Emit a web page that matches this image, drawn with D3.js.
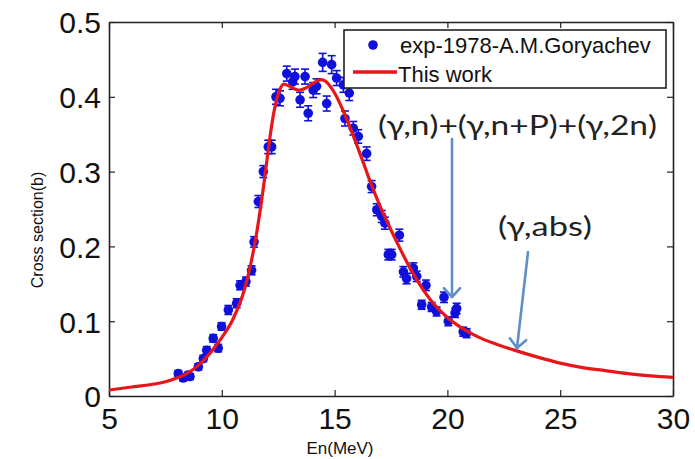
<!DOCTYPE html>
<html>
<head>
<meta charset="utf-8">
<script src="https://cdn.jsdelivr.net/npm/d3@7"></script>
<style>
  html, body { margin: 0; padding: 0; background: #fff; }
  svg { display: block; }
</style>
</head>
<body>
<svg id="chart" width="695" height="459"></svg>
<script>
// ---------- data ----------
const xTicks = [5, 10, 15, 20, 25, 30];
const yTicks = [0, 0.1, 0.2, 0.3, 0.4, 0.5];
const yTickLabels = ["0", "0.1", "0.2", "0.3", "0.4", "0.5"];

// experimental points: exp-1978-A.M.Goryachev
const expE = [8.07, 8.29, 8.51, 8.59, 8.96, 9.18, 9.33, 9.62, 9.84, 9.99, 10.29, 10.66, 10.81, 11.07, 11.32, 11.43,
  11.62, 11.84, 12.06, 12.21, 12.40, 12.58, 12.88, 13.14, 13.24, 13.47, 13.69, 13.83, 14.05, 14.20, 14.47, 14.65,
  14.87, 15.09, 15.39, 15.46, 15.65, 15.83, 16.05, 16.42, 16.64, 16.87, 17.09, 17.23, 17.38, 17.53, 17.87, 18.05,
  18.19, 18.49, 18.64, 18.86, 19.05, 19.30, 19.52, 19.85, 20.04, 20.34, 20.41, 20.70, 20.85];
const expSigma = [0.030, 0.024, 0.028, 0.026, 0.039, 0.050, 0.061, 0.077, 0.064, 0.093, 0.115, 0.124, 0.148, 0.153, 0.168, 0.206,
  0.260, 0.300, 0.333, 0.333, 0.400, 0.398, 0.431, 0.420, 0.427, 0.396, 0.427, 0.378, 0.409, 0.414, 0.446, 0.391,
  0.443, 0.425, 0.416, 0.371, 0.405, 0.358, 0.347, 0.324, 0.280, 0.249, 0.240, 0.231, 0.189, 0.189, 0.215, 0.166,
  0.157, 0.171, 0.160, 0.122, 0.148, 0.119, 0.113, 0.132, 0.100, 0.111, 0.117, 0.086, 0.084];
const expErr = [0.004, 0.004, 0.004, 0.004, 0.004, 0.004, 0.005, 0.005, 0.005, 0.005, 0.006, 0.006, 0.006, 0.006, 0.006, 0.007,
  0.008, 0.008, 0.009, 0.009, 0.010, 0.010, 0.010, 0.010, 0.010, 0.010, 0.010, 0.010, 0.010, 0.010, 0.012, 0.010,
  0.012, 0.010, 0.010, 0.010, 0.010, 0.009, 0.009, 0.009, 0.008, 0.008, 0.008, 0.008, 0.007, 0.007, 0.008, 0.007,
  0.007, 0.007, 0.007, 0.006, 0.007, 0.006, 0.006, 0.007, 0.006, 0.006, 0.007, 0.006, 0.006];

// calculated curve: This work
const fitE = [5, 6, 7, 7.5, 8, 8.5, 9, 9.5, 10, 10.5, 11, 11.25, 11.5, 11.7, 11.85, 12.05, 12.3, 12.55, 12.75,
  13.0, 13.4, 13.8, 14.1, 14.4, 14.7, 15.0, 15.4, 15.8, 16.2, 16.6, 17.0, 17.5, 17.9, 18.4, 18.8, 19.4, 20.0,
  20.85, 21.5, 22.3, 23, 24, 25, 26, 27, 28, 29, 30];
const fitSigma = [0.008, 0.012, 0.016, 0.019, 0.024, 0.031, 0.042, 0.058, 0.078, 0.103, 0.142, 0.172, 0.210, 0.248, 0.280,
  0.327, 0.378, 0.408, 0.417, 0.414, 0.409, 0.413, 0.419, 0.423, 0.418, 0.405, 0.380, 0.350, 0.318, 0.285, 0.255,
  0.222, 0.197, 0.168, 0.148, 0.123, 0.105, 0.087, 0.077, 0.068, 0.061, 0.052, 0.044, 0.038, 0.034, 0.030, 0.027, 0.025];

const legendLabels = ["exp-1978-A.M.Goryachev", "This work"];
const annotations = ["(\u03B3,n)+(\u03B3,n+P)+(\u03B3,2n)", "(\u03B3,abs)"];

// ---------- layout ----------
const svg = d3.select("#chart");
const L = 109, R = 673, T = 22, B = 396;
const x = d3.scaleLinear().domain([5, 30]).range([L, R]);
const y = d3.scaleLinear().domain([0, 0.5]).range([B, T]);
const axisFont = "'Liberation Sans', Arial, sans-serif";
const blue = "#1010dc";
const red = "#e8161b";
const arrowCol = "#5f8fc4";

// axes (box with inward ticks)
const tickLen = 6;
const gx = svg.append("g").attr("transform", `translate(0,${B})`)
  .call(d3.axisBottom(x).tickValues(xTicks).tickSizeInner(-tickLen).tickSizeOuter(0).tickPadding(12).tickFormat(d3.format("d")));
const gxTop = svg.append("g").attr("transform", `translate(0,${T})`)
  .call(d3.axisTop(x).tickValues(xTicks).tickSizeInner(-tickLen).tickSizeOuter(0).tickFormat(""));
const gy = svg.append("g").attr("transform", `translate(${L},0)`)
  .call(d3.axisLeft(y).tickValues(yTicks).tickSizeInner(-tickLen).tickSizeOuter(0).tickPadding(8)
    .tickFormat((d, i) => yTickLabels[i]));
const gyR = svg.append("g").attr("transform", `translate(${R},0)`)
  .call(d3.axisRight(y).tickValues(yTicks).tickSizeInner(-tickLen).tickSizeOuter(0).tickFormat(""));

[gx, gxTop, gy, gyR].forEach(g => {
  g.select(".domain").attr("stroke", "#222").attr("stroke-width", 1.6);
  g.selectAll(".tick line").attr("stroke", "#222").attr("stroke-width", 1.2);
  g.selectAll("text").attr("font-family", axisFont).attr("font-size", 30).attr("fill", "#111");
});
gx.selectAll("text").attr("dy", "0.71em");
gy.selectAll("text").attr("dy", "0.36em");

// axis titles
svg.append("text").attr("x", 340).attr("y", 454).attr("text-anchor", "middle")
  .attr("font-family", axisFont).attr("font-size", 17).attr("fill", "#111").text("En(MeV)");
svg.append("text").attr("transform", "translate(43,230) rotate(-90)").attr("text-anchor", "middle")
  .attr("font-family", axisFont).attr("font-size", 16).attr("fill", "#111").text("Cross section(b)");

// experimental points
const pts = expE.map((e, i) => ({ e, s: expSigma[i], err: expErr[i] }));
const gp = svg.append("g");
const cap = 4;
pts.forEach(p => {
  const cx = x(p.e), cy = y(p.s), y1 = y(p.s + p.err), y2 = y(p.s - p.err);
  gp.append("line").attr("x1", cx).attr("x2", cx).attr("y1", y1).attr("y2", y2).attr("stroke", blue).attr("stroke-width", 1.6);
  gp.append("line").attr("x1", cx - cap).attr("x2", cx + cap).attr("y1", y1).attr("y2", y1).attr("stroke", blue).attr("stroke-width", 1.6);
  gp.append("line").attr("x1", cx - cap).attr("x2", cx + cap).attr("y1", y2).attr("y2", y2).attr("stroke", blue).attr("stroke-width", 1.6);
});
gp.selectAll("circle").data(pts).join("circle")
  .attr("cx", d => x(d.e)).attr("cy", d => y(d.s)).attr("r", 4.8).attr("fill", blue);

// curve
const fit = fitE.map((e, i) => [e, fitSigma[i]]);
svg.append("path").datum(fit)
  .attr("d", d3.line().x(d => x(d[0])).y(d => y(d[1])).curve(d3.curveMonotoneX))
  .attr("fill", "none").attr("stroke", red).attr("stroke-width", 3.2).attr("stroke-linejoin", "round");

// legend
const lg = svg.append("g");
lg.append("rect").attr("x", 344).attr("y", 30).attr("width", 322).attr("height", 58)
  .attr("fill", "#fff").attr("stroke", "#222").attr("stroke-width", 1.6);
lg.append("circle").attr("cx", 373).attr("cy", 45).attr("r", 4.8).attr("fill", blue);
lg.append("text").attr("x", 400).attr("y", 53).attr("font-family", axisFont).attr("font-size", 22)
  .attr("fill", "#111").text(legendLabels[0]);
lg.append("line").attr("x1", 353).attr("x2", 397).attr("y1", 72).attr("y2", 72).attr("stroke", red).attr("stroke-width", 3.4);
lg.append("text").attr("x", 398).attr("y", 82).attr("font-family", axisFont).attr("font-size", 22)
  .attr("fill", "#111").text(legendLabels[1]);

// annotations
const annFont = "Lato, 'Open Sans', sans-serif";
svg.append("text").attr("x", 378).attr("y", 135).attr("font-family", annFont).attr("font-size", 27)
  .attr("fill", "#222").attr("textLength", 279).attr("lengthAdjust", "spacingAndGlyphs").text(annotations[0]);
svg.append("text").attr("x", 498).attr("y", 236).attr("font-family", annFont).attr("font-size", 27)
  .attr("fill", "#222").attr("textLength", 94).attr("lengthAdjust", "spacingAndGlyphs").text(annotations[1]);

function arrow(x1, y1, x2, y2) {
  const g = svg.append("g").attr("stroke", arrowCol).attr("stroke-width", 2.6).attr("fill", "none").attr("stroke-linecap", "round");
  g.append("line").attr("x1", x1).attr("y1", y1).attr("x2", x2).attr("y2", y2);
  const ang = Math.atan2(y2 - y1, x2 - x1);
  const len = 12, spread = 0.75;
  const pts2 = [
    [x2 - len * Math.cos(ang - spread), y2 - len * Math.sin(ang - spread)],
    [x2, y2],
    [x2 - len * Math.cos(ang + spread), y2 - len * Math.sin(ang + spread)]
  ];
  g.append("path").attr("d", d3.line()(pts2)).attr("stroke-linejoin", "round");
}
arrow(452, 139, 452, 297);
arrow(528, 252, 517, 348);
</script>
</body>
</html>
